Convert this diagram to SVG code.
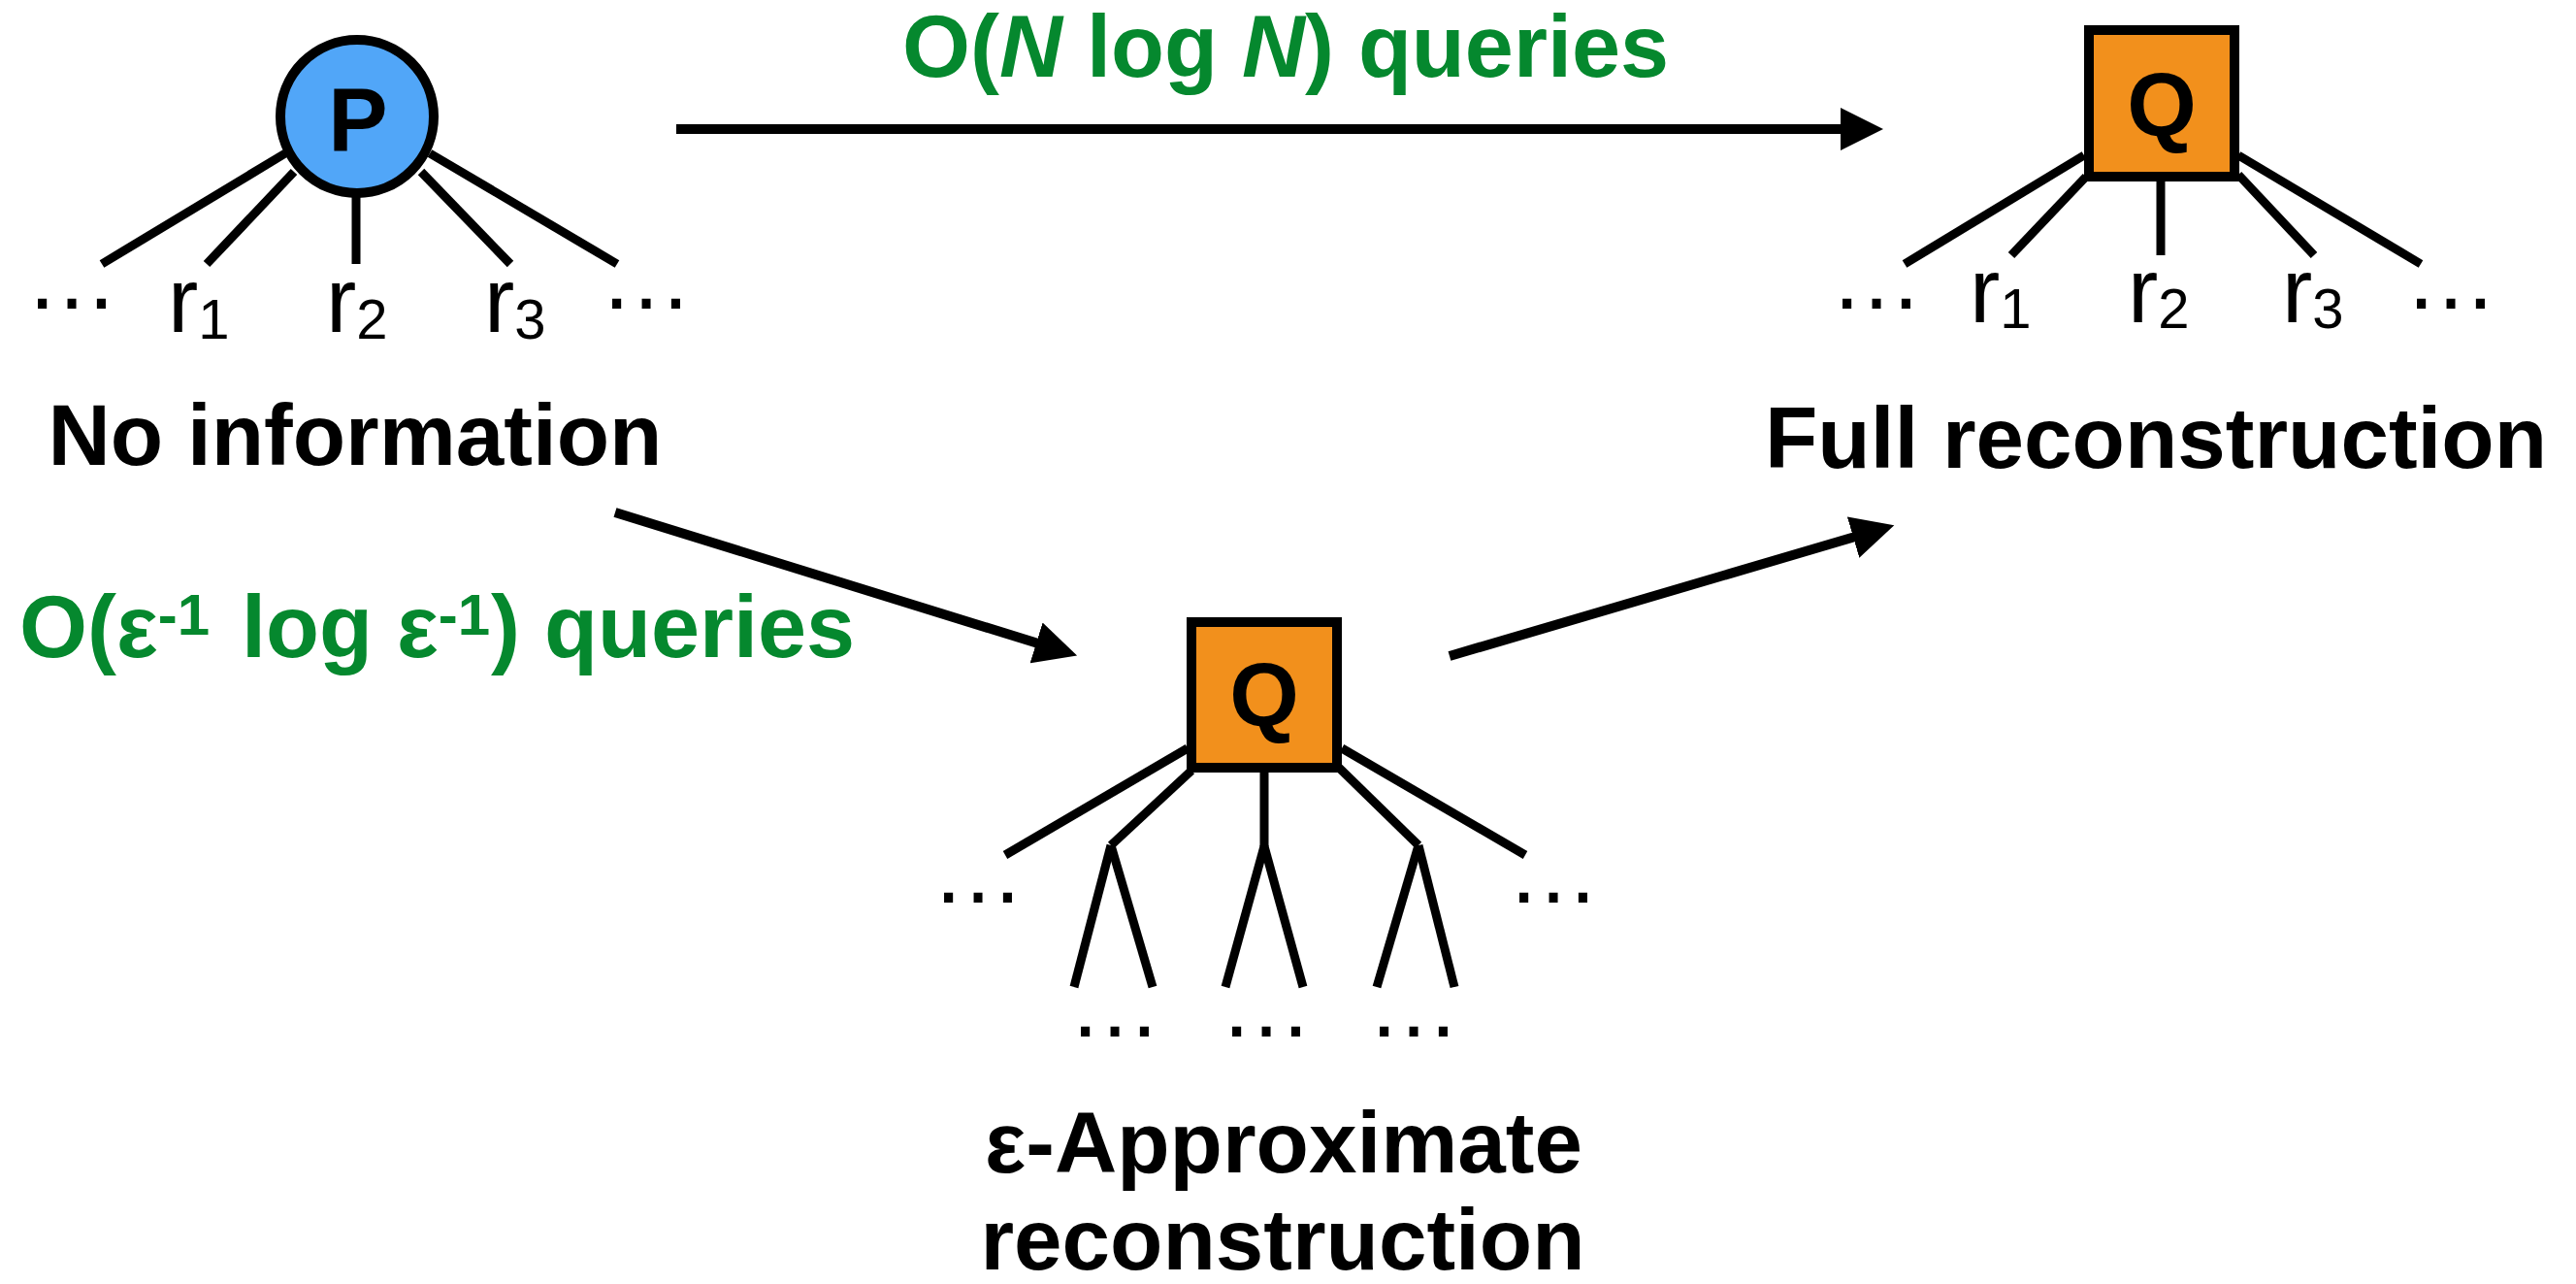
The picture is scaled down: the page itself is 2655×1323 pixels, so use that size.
<svg xmlns="http://www.w3.org/2000/svg" width="2655" height="1323" viewBox="0 0 2655 1323">
  <defs>
    <style>
      .edge { stroke: #000; stroke-width: 9; fill: none; stroke-linecap: butt; }
      .arrow { stroke: #000; stroke-width: 10; fill: none; marker-end: url(#head); }
      .leaf { font-family: "Liberation Sans", Arial, sans-serif; font-size: 94px; fill: #000; }
      .sub { font-size: 58px; }
      .dots { font-family: "Liberation Sans", Arial, sans-serif; font-size: 96px; fill: #000; }
      .title { font-family: "Liberation Sans", Arial, sans-serif; font-size: 89px; font-weight: bold; fill: #000; text-anchor: middle; }
      .cost { font-family: "Liberation Sans", Arial, sans-serif; font-size: 90px; font-weight: bold; fill: #05882e; }
      .sup { font-size: 60px; }
      .letter { font-family: "Liberation Sans", Arial, sans-serif; font-size: 92px; font-weight: bold; fill: #000; text-anchor: middle; }
      .pnode { fill: #51a6f8; stroke: #000; stroke-width: 10; }
      .qnode { fill: #f2901c; stroke: #000; stroke-width: 10; }
    </style>
    <marker id="head" markerUnits="userSpaceOnUse" markerWidth="46" markerHeight="46" viewBox="0 -23 46 46" refX="2" refY="0" orient="auto">
      <path d="M0,-22 L44,0 L0,22 z" fill="#000"/>
    </marker>
  </defs>
  <rect width="2655" height="1323" fill="#fff"/>

  <!-- transitions between the three states -->
  <g id="connectors">
    <line class="arrow" x1="697" y1="133" x2="1899" y2="133"/>
    <line class="arrow" x1="634" y1="528" x2="1070" y2="663"/>
    <line class="arrow" x1="1494" y1="676" x2="1912" y2="553"/>
  </g>

  <!-- cost labels -->
  <g id="cost-labels">
    <text class="cost" x="1325" y="79" text-anchor="middle">O(<tspan font-style="italic">N</tspan> log <tspan font-style="italic">N</tspan>) queries</text>
    <text class="cost" x="20" y="677">O(ε<tspan class="sup" dy="-23">-1</tspan><tspan x="249" dy="23">log ε</tspan><tspan class="sup" dy="-23">-1</tspan><tspan x="506" dy="23">) queries</tspan></text>
  </g>

  <!-- state with no information: unknown node P -->
  <g id="node-no-information">
    <line class="edge" x1="294" y1="158" x2="105" y2="272"/>
    <line class="edge" x1="303" y1="177" x2="213" y2="272"/>
    <line class="edge" x1="367" y1="200" x2="367" y2="272"/>
    <line class="edge" x1="434" y1="177" x2="526" y2="272"/>
    <line class="edge" x1="443" y1="158" x2="636" y2="272"/>
    <circle class="pnode" cx="368" cy="120" r="79"/>
    <text class="letter" x="369" y="156">P</text>
    <text class="dots" x="26" y="318">…</text>
    <text class="leaf" x="173" y="342">r<tspan class="sub" dy="7">1</tspan></text>
    <text class="leaf" x="336" y="342">r<tspan class="sub" dy="7">2</tspan></text>
    <text class="leaf" x="499" y="342">r<tspan class="sub" dy="7">3</tspan></text>
    <text class="dots" x="618" y="318">…</text>
    <text class="title" x="366" y="479">No information</text>
  </g>

  <!-- fully reconstructed state: node Q with all children known -->
  <g id="node-full-reconstruction">
    <line class="edge" x1="2148" y1="160" x2="1963" y2="272"/>
    <line class="edge" x1="2150" y1="182" x2="2073" y2="263"/>
    <line class="edge" x1="2227" y1="182" x2="2227" y2="263"/>
    <line class="edge" x1="2307" y1="180" x2="2385" y2="263"/>
    <line class="edge" x1="2307" y1="160" x2="2495" y2="272"/>
    <rect class="qnode" x="2153" y="31" width="150" height="151"/>
    <text class="letter" x="2228" y="140">Q</text>
    <text class="dots" x="1886" y="318">…</text>
    <text class="leaf" x="2030" y="332">r<tspan class="sub" dy="6">1</tspan></text>
    <text class="leaf" x="2193" y="332">r<tspan class="sub" dy="6">2</tspan></text>
    <text class="leaf" x="2352" y="332">r<tspan class="sub" dy="6">3</tspan></text>
    <text class="dots" x="2478" y="318">…</text>
    <text class="title" x="2222" y="482">Full reconstruction</text>
  </g>

  <!-- approximate state: node Q with a partial subtree -->
  <g id="node-approximate">
    <line class="edge" x1="1224" y1="771" x2="1036" y2="881"/>
    <line class="edge" x1="1228" y1="794" x2="1145" y2="871"/>
    <line class="edge" x1="1303" y1="791" x2="1303" y2="872"/>
    <line class="edge" x1="1380" y1="791" x2="1462" y2="871"/>
    <line class="edge" x1="1383" y1="771" x2="1572" y2="881"/>
    <line class="edge" x1="1145" y1="871" x2="1107" y2="1017"/>
    <line class="edge" x1="1145" y1="871" x2="1188" y2="1017"/>
    <line class="edge" x1="1303" y1="872" x2="1263" y2="1017"/>
    <line class="edge" x1="1303" y1="872" x2="1343" y2="1017"/>
    <line class="edge" x1="1462" y1="871" x2="1419" y2="1017"/>
    <line class="edge" x1="1462" y1="871" x2="1499" y2="1017"/>
    <rect class="qnode" x="1228" y="641" width="150" height="150"/>
    <text class="letter" x="1303" y="748">Q</text>
    <text class="dots" x="960" y="930">…</text>
    <text class="dots" x="1553" y="930">…</text>
    <text class="dots" x="1101" y="1068">…</text>
    <text class="dots" x="1257" y="1068">…</text>
    <text class="dots" x="1409" y="1068">…</text>
    <text class="title" x="1323" y="1208">ε-Approximate</text>
    <text class="title" x="1322" y="1308">reconstruction</text>
  </g>
</svg>
